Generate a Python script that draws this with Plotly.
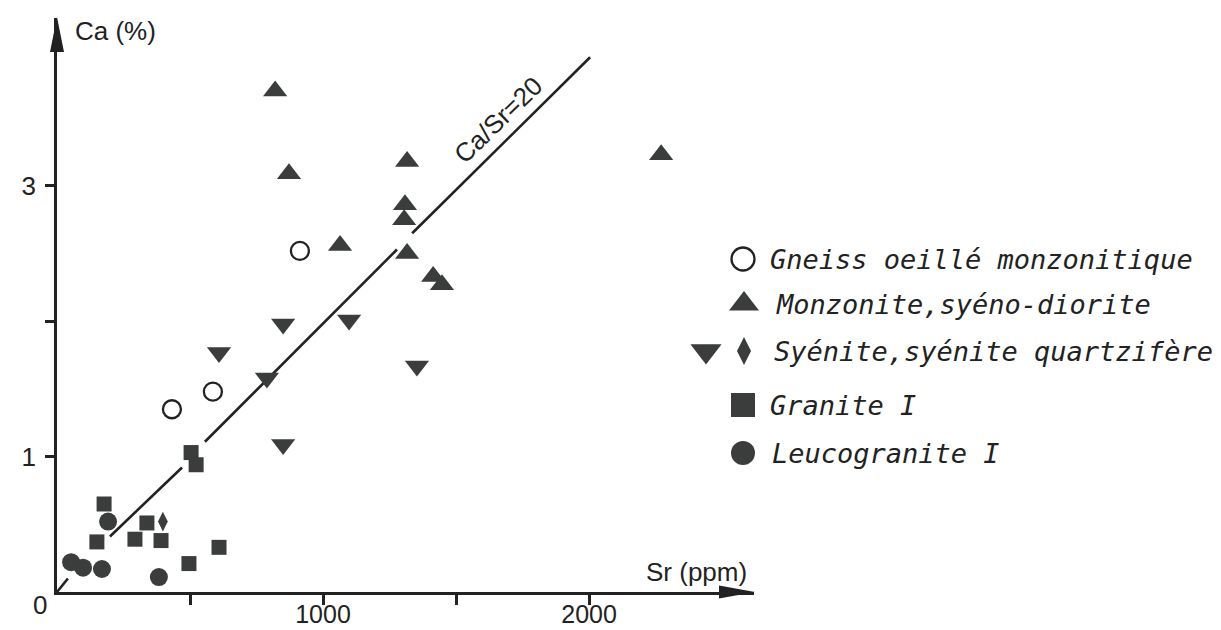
import plotly.graph_objects as go

# ---- data (Sr in ppm, Ca in %) ----
gneiss_sr = [913, 586, 432]
gneiss_ca = [2.52, 1.48, 1.35]

monzonite_sr = [820, 872, 1316, 1308, 1305, 1064, 1316, 1414, 1447, 2271]
monzonite_ca = [3.70, 3.09, 3.18, 2.86, 2.75, 2.56, 2.50, 2.33, 2.27, 3.23]

syenite_sr = [850, 1098, 609, 789, 1353, 850]
syenite_ca = [1.98, 2.01, 1.77, 1.58, 1.67, 1.09]

syenite_q_sr = [398]
syenite_q_ca = [0.52]

granite_sr = [177, 150, 293, 338, 391, 609, 496, 504, 523]
granite_ca = [0.65, 0.37, 0.39, 0.51, 0.38, 0.33, 0.21, 1.03, 0.94]

leuco_sr = [192, 53, 98, 169, 383]
leuco_ca = [0.52, 0.22, 0.18, 0.17, 0.11]

# Ca/Sr = 20 reference line, broken where it passes the symbols
ratio_sr = [0, 41, None, 199, 470, None, 556, 1278, None, 1335, 2004]
ratio_ca = [0, 0.10, None, 0.41, 0.92, None, 1.11, 2.53, None, 2.65, 3.95]

x_ticks = [500, 1000, 1500, 2000]
x_tick_text = ['', '1000', '', '2000']
y_ticks = [1, 2, 3]
y_tick_text = ['1', '', '3']

legend_labels = [
    'Gneiss oeillé monzonitique',
    'Monzonite,syéno-diorite',
    'Syénite,syénite quartzifère',
    'Granite I',
    'Leucogranite I',
]

# ---- page geometry ----
# the page body has an 8px margin, so the figure is that much smaller
OFF = 8
W, H = 1221 - OFF, 630 - OFF
L, B, T = 57 - OFF, 38, 18 - OFF
PLOT_W = 697
R = W - L - PLOT_W
PLOT_H = H - T - B
X_MAX, Y_MAX = 2620, 4.24
xs = PLOT_W / X_MAX
ys = PLOT_H / Y_MAX


# helpers take screen pixels (as measured on the page)
def px_x(p):
    return (p - OFF - L) / xs


def px_y(p):
    return (H - B - (p - OFF)) / ys


def paper_x(p):
    return (p - OFF - L) / PLOT_W


def paper_y(p):
    return (H - B - (p - OFF)) / PLOT_H


INK = '#222222'
FILL = '#3a3d3b'
SANS = 'Liberation Sans, Arial, sans-serif'
HAND = 'DejaVu Sans Mono, monospace'

fig = go.Figure()

fig.add_trace(go.Scatter(x=ratio_sr, y=ratio_ca, mode='lines',
                         line=dict(color=INK, width=2.6),
                         connectgaps=False, showlegend=False, hoverinfo='skip'))


def add_points(x, y, symbol, size, filled=True):
    if filled:
        marker = dict(symbol=symbol, size=size, color=FILL, line=dict(width=0))
    else:
        marker = dict(symbol=symbol, size=size, color=INK, line=dict(width=2.3, color=INK))
    fig.add_trace(go.Scatter(x=x, y=y, mode='markers', marker=marker,
                             showlegend=False, cliponaxis=False))


add_points(gneiss_sr, gneiss_ca, 'circle-open', 18, filled=False)
add_points(monzonite_sr, monzonite_ca, 'triangle-up', 21)
add_points(syenite_sr, syenite_ca, 'triangle-down', 21)
add_points(syenite_q_sr, syenite_q_ca, 'diamond-tall', 14)
add_points(granite_sr, granite_ca, 'square', 15)
add_points(leuco_sr, leuco_ca, 'circle', 18)

# ---- hand-drawn style legend at the right ----
row_y = [259, 304, 351, 405, 453]
text_x = [768, 774, 772, 768, 770]
leg_sym = [('circle-open', 743, 0), ('triangle-up', 744, 1), ('triangle-down', 706, 2),
           ('diamond-tall', 744, 2), ('square', 743, 3), ('circle', 743, 4)]
leg_size = {'circle-open': 23, 'triangle-up': 26, 'triangle-down': 27,
            'diamond-tall': 20, 'square': 24, 'circle': 24}
for sym, px, row in leg_sym:
    add_points([px_x(px)], [px_y(row_y[row])], sym, leg_size[sym], filled=(sym != 'circle-open'))

annotations = []
for label, tx, ty in zip(legend_labels, text_x, row_y):
    annotations.append(dict(x=paper_x(tx), y=paper_y(ty), xref='paper', yref='paper', text=label,
                            showarrow=False, xanchor='left', yanchor='middle',
                            font=dict(family=HAND, size=27, color=INK, style='italic')))


def label(text, px, py, anchor='center', angle=0):
    return dict(x=paper_x(px), y=paper_y(py), xref='paper', yref='paper', text=text,
                showarrow=False, xanchor=anchor, yanchor='middle', textangle=angle,
                font=dict(family=SANS, size=26, color=INK))


annotations += [
    label('Ca (%)', 73, 31, anchor='left'),
    label('Sr (ppm)', 696, 572),
    label('0', 40, 605),
    label('Ca/Sr=20', 498, 120, angle=-44),
]

# arrow heads at the ends of both axes
shapes = [
    dict(type='path', xref='paper', yref='paper', xsizemode='pixel', ysizemode='pixel',
         xanchor=0, yanchor=1, path='M0,1 L-7,-34 L7,-34 Z',
         fillcolor=INK, line=dict(width=0)),
    dict(type='path', xref='paper', yref='paper', xsizemode='pixel', ysizemode='pixel',
         xanchor=1, yanchor=0, path='M1,0 L-35,6.5 L-35,-6.5 Z',
         fillcolor=INK, line=dict(width=0)),
]

fig.update_layout(
    width=W, height=H,
    margin=dict(l=L, r=R, t=T, b=B),
    paper_bgcolor='white', plot_bgcolor='white',
    showlegend=False,
    annotations=annotations,
    shapes=shapes,
    xaxis=dict(range=[0, X_MAX], showgrid=False, zeroline=False, automargin=False,
               showline=True, linecolor=INK, linewidth=2.5,
               ticks='outside', ticklen=10, tickwidth=2.5, tickcolor=INK,
               tickvals=x_ticks, ticktext=x_tick_text, ticklabelstandoff=-12,
               tickfont=dict(family=SANS, size=25, color=INK)),
    yaxis=dict(range=[0, Y_MAX], showgrid=False, zeroline=False, automargin=False,
               showline=True, linecolor=INK, linewidth=2.5,
               ticks='outside', ticklen=9, tickwidth=2.5, tickcolor=INK,
               tickvals=y_ticks, ticktext=y_tick_text, ticklabelstandoff=4,
               tickfont=dict(family=SANS, size=26, color=INK)),
)

fig.write_html('out.html')
